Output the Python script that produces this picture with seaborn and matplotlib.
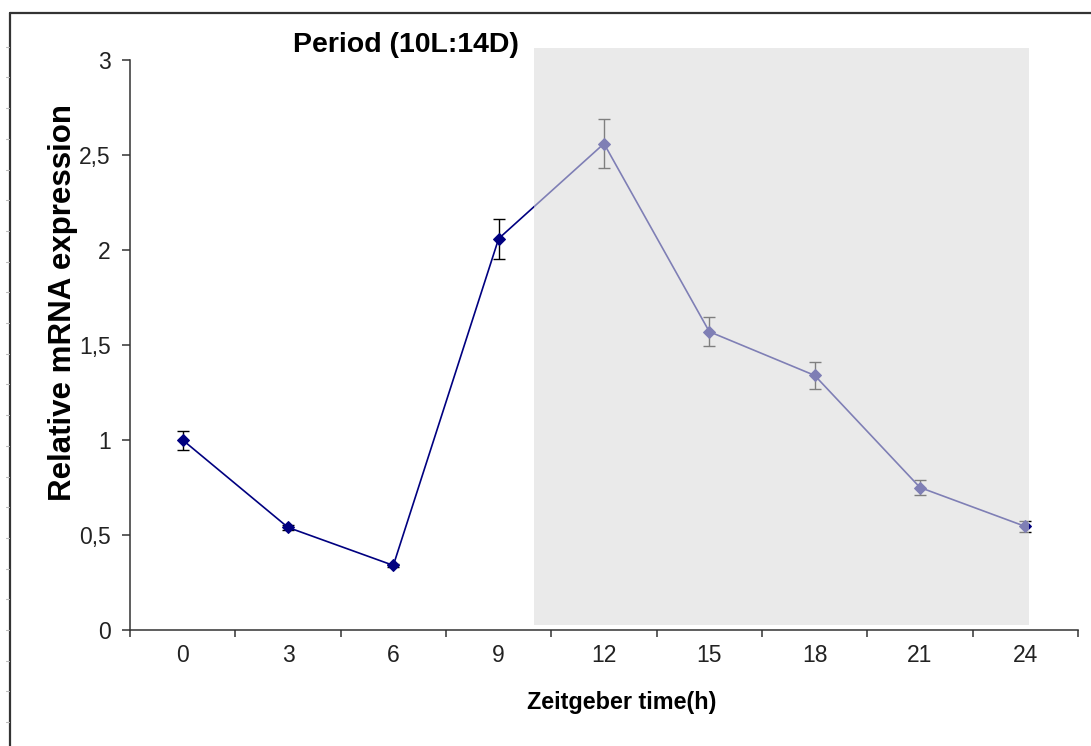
import numpy as np
import matplotlib
matplotlib.use('Agg')
import matplotlib.pyplot as plt
import seaborn as sns
from matplotlib.patches import Rectangle
from matplotlib.lines import Line2D

# --- données ---
zt = [0, 3, 6, 9, 12, 15, 18, 21, 24]
expr = [1.00, 0.54, 0.34, 2.06, 2.56, 1.57, 1.34, 0.75, 0.545]
err = [0.05, 0.015, 0.01, 0.105, 0.13, 0.075, 0.07, 0.037, 0.03]
ytick_vals = [0, 0.5, 1, 1.5, 2, 2.5, 3]
ytick_labels = ['0', '0,5', '1', '1,5', '2', '2,5', '3']
dark_start, dark_end = 10, 24.1

sns.set_style('white')
plt.rcParams['font.family'] = ['Liberation Sans', 'DejaVu Sans']

W, H = 1091, 746
fig = plt.figure(figsize=(W / 100, H / 100), dpi=100)
ax = fig.add_axes([130 / W, 1 - 630 / H, 948 / W, 570 / H])

sns.lineplot(x=zt, y=expr, ax=ax, color='#000080', linewidth=1.2,
             marker='D', markersize=6.5, markeredgecolor='#000080', zorder=3)
ax.errorbar(zt, expr, yerr=err, fmt='none', ecolor='black',
            elinewidth=1.0, capsize=4.5, capthick=1.0, zorder=2)

# zone sombre (14D), semi-transparente par-dessus la courbe
ax.add_patch(Rectangle((dark_start, 0.026), dark_end - dark_start, 3.063 - 0.026,
                       facecolor=(220/255, 220/255, 220/255), alpha=0.58,
                       edgecolor='none', zorder=5, clip_on=False))

ax.set_xlim(-1.5, 25.5)
ax.set_ylim(0, 3)
ax.set_xticks(np.arange(-1.5, 25.6, 3))
ax.set_xticklabels([])
ax.set_xticks(zt, minor=True)
ax.set_xticklabels([str(z) for z in zt], minor=True, fontsize=16.5, color='#222222')
ax.tick_params(axis='x', which='major', direction='out', length=5, width=1.1,
               color='#333333', bottom=True)
ax.tick_params(axis='x', which='minor', length=0, pad=10)
ax.set_yticks(ytick_vals)
ax.set_yticklabels(ytick_labels, fontsize=16.5, color='#222222')
ax.tick_params(axis='y', direction='out', length=6, width=1.1, color='#333333',
               left=True, pad=8)

for s in ['top', 'right']:
    ax.spines[s].set_visible(False)
for s in ['left', 'bottom']:
    ax.spines[s].set_color('#333333')
    ax.spines[s].set_linewidth(1.1)
ax.set_facecolor('none')

fig.text(406 / W, 1 - 45 / H, 'Period (10L:14D)', fontsize=20.5, fontweight='bold',
         ha='center', va='center', color='black')
fig.text(63 / W, 1 - 302 / H, 'Relative mRNA expression', fontsize=22.5,
         fontweight='bold', rotation=90, ha='center', va='center', color='black')
fig.text(622 / W, 1 - 703 / H, 'Zeitgeber time(h)', fontsize=16.8,
         fontweight='bold', ha='center', va='center', color='black')

# cadre de la figure
fig.add_artist(Line2D([10 / W, 10 / W], [0, 1 - 13 / H], transform=fig.transFigure,
                      color='#333333', linewidth=1.6))
fig.add_artist(Line2D([10 / W, 1], [1 - 13 / H, 1 - 13 / H], transform=fig.transFigure,
                      color='#333333', linewidth=1.6))
for k in range(-19, 4):
    y = 1 - (630 + 30.7 * k) / H
    fig.add_artist(Line2D([6 / W, 9 / W], [y, y], transform=fig.transFigure,
                          color='#bbbbbb', linewidth=0.8))

fig.savefig('out.png', dpi=100)
